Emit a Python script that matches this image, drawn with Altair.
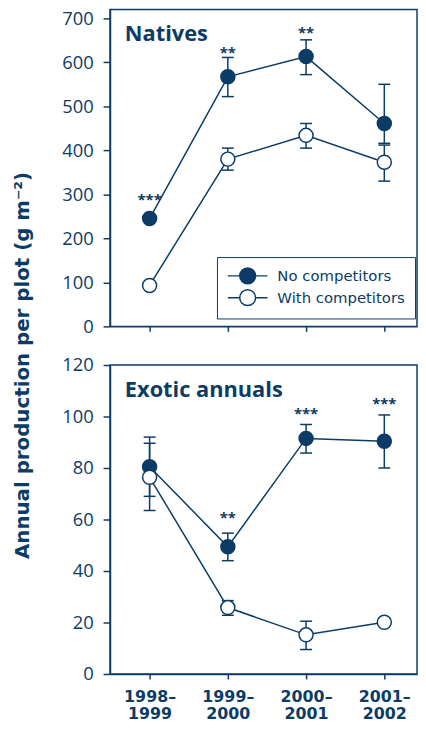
import json
import altair as alt
import pandas as pd

# ---------------- data ----------------
periods = ["1998–1999", "1999–2000", "2000–2001", "2001–2002"]
series = ["No competitors", "With competitors"]

# Natives
nat_no = [245, 567, 613, 461]
nat_no_lo = [240, 522, 572, 416]
nat_no_hi = [250, 611, 651, 550]
nat_with = [93, 380, 434, 373]
nat_with_lo = [89, 355, 405, 330]
nat_with_hi = [97, 405, 461, 412]
nat_stars = ["***", "**", "**", ""]
nat_star_y = [288, 620, 666, None]

# Exotic annuals
exo_no = [80.5, 49.4, 91.5, 90.4]
exo_no_lo = [69.0, 44.0, 85.8, 80.0]
exo_no_hi = [92.0, 54.7, 96.9, 100.6]
exo_with = [76.4, 25.8, 15.2, 20.1]
exo_with_lo = [63.5, 22.8, 9.5, 18.5]
exo_with_hi = [89.6, 28.5, 20.5, 21.7]
exo_stars = ["", "**", "***", "***"]
exo_star_y = [None, 60.6, 101.0, 104.8]

nat_ticks = [0, 100, 200, 300, 400, 500, 600, 700]
exo_ticks = [0, 20, 40, 60, 80, 100, 120]

NAVY = "#0c3c66"
FONT = "Open Sans"
WIDE = "DejaVu Sans"

label_lines = [[p.split("–")[0] + "–", p.split("–")[1]] for p in periods]
label_expr = json.dumps(label_lines, ensure_ascii=False) + "[datum.value]"

# legend glyph: line - circle - line (circle radius 1 unit = 8 px at size 256)
LEGEND_PATH = ("M-1,0L0.5,0M2.5,0L4,0M0.5,0"
               "A1,1,0,1,0,2.5,0A1,1,0,1,0,0.5,0Z")

W = 310


def panel(vno, lno, hno, vw, lw, hw, stars, star_y, ymax, ticks, h, name,
          show_labels, legend):
    rows = []
    for i in range(4):
        rows.append(dict(idx=i, series=series[0], value=vno[i], lo=lno[i], hi=hno[i]))
    for i in range(4):
        rows.append(dict(idx=i, series=series[1], value=vw[i], lo=lw[i], hi=hw[i]))
    df = pd.DataFrame(rows)
    sdf = pd.DataFrame({"idx": list(range(4)), "star": stars, "sy": star_y}).dropna()
    sdf = sdf[sdf["star"] != ""]

    xscale = alt.Scale(domain=[-0.506, 3.418], nice=False, zero=False)
    yscale = alt.Scale(domain=[0, ymax], nice=False)
    xaxis = alt.Axis(values=[0, 1, 2, 3], labels=show_labels, labelExpr=label_expr,
                     title=None, grid=False, labelFontWeight="bold",
                     labelFont=WIDE, labelFontSize=16, labelLineHeight=17,
                     labelPadding=10, labelBaseline="top", tickSize=5)
    yaxis = alt.Axis(values=ticks, title=None, grid=False, tickSize=7,
                     labelPadding=10)

    def X():
        return alt.X("idx:Q", scale=xscale, axis=xaxis, title=None)

    def Y(f):
        return alt.Y(f, scale=yscale, axis=yaxis, title=None)

    base = alt.Chart(df)

    line = base.mark_line(color=NAVY, strokeWidth=1.5).encode(
        x=X(), y=Y("value:Q"), detail="series:N")
    rule = base.mark_rule(color=NAVY, strokeWidth=1.5).encode(
        x=X(), y=Y("lo:Q"), y2="hi:Q")
    cap_lo = base.mark_tick(color=NAVY, thickness=1.5, size=12, orient="horizontal",
                            opacity=1).encode(x=X(), y=Y("lo:Q"))
    cap_hi = base.mark_tick(color=NAVY, thickness=1.5, size=12, orient="horizontal",
                            opacity=1).encode(x=X(), y=Y("hi:Q"))
    if legend:
        leg = alt.Legend(title=None, orient="none", legendX=108, legendY=250,
                         symbolType=LEGEND_PATH, symbolSize=256,
                         symbolStrokeColor=NAVY, symbolStrokeWidth=1.5,
                         labelFont=WIDE, labelFontSize=15, labelColor=NAVY,
                         labelOffset=33, strokeColor=NAVY, fillColor="white",
                         padding=10, rowPadding=0)
    else:
        leg = None
    pts = base.mark_point(shape="circle", size=200, stroke=NAVY, strokeWidth=1.5,
                          opacity=1, fillOpacity=1).encode(
        x=X(), y=Y("value:Q"),
        fill=alt.Fill("series:N", scale=alt.Scale(domain=series, range=[NAVY, "white"]),
                      legend=leg))
    star = alt.Chart(sdf).mark_text(font=FONT, fontSize=15, fontWeight="bold",
                                    color=NAVY, baseline="alphabetic", dy=5).encode(
        x=X(), y=Y("sy:Q"), text="star:N")
    title = alt.Chart(pd.DataFrame({"t": [name]})).mark_text(
        font=FONT, fontSize=22, fontWeight="bold", color=NAVY, align="left",
        baseline="alphabetic").encode(x=alt.value(15), y=alt.value(32), text="t:N")

    return alt.layer(line, rule, cap_lo, cap_hi, pts, star, title).properties(
        width=W, height=h)


top = panel(nat_no, nat_no_lo, nat_no_hi, nat_with, nat_with_lo, nat_with_hi,
            nat_stars, nat_star_y, 720, nat_ticks, 320, "Natives", False, True)
bottom = panel(exo_no, exo_no_lo, exo_no_hi, exo_with, exo_with_lo, exo_with_hi,
               exo_stars, exo_star_y, 120, exo_ticks, 312, "Exotic annuals", True, False)

chart = alt.vconcat(top, bottom, spacing=18).resolve_scale(
    fill="independent", x="independent", y="independent"
).resolve_legend(fill="independent").properties(
    title=alt.TitleParams("Annual production per plot (g m⁻²)", orient="left",
                          anchor="middle", fontSize=20, fontWeight="bold",
                          font=WIDE, color=NAVY, offset=28),
    padding={"left": 5, "top": -3, "right": 0, "bottom": -3},
).configure_view(
    stroke=NAVY, strokeWidth=1.5
).configure_axis(
    domainColor=NAVY, domainWidth=1.5, tickColor=NAVY, tickWidth=1.5,
    labelColor=NAVY, labelFont=FONT, labelFontSize=18.5,
)

chart.save("out.html", embed_options={"renderer": "svg", "actions": False})
